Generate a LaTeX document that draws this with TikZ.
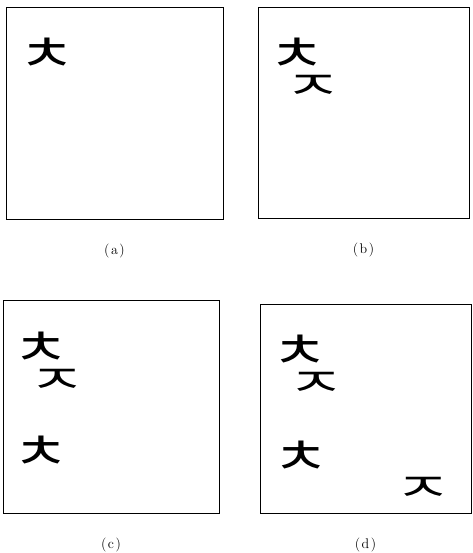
\documentclass[tikz,border=0pt]{standalone}
\usepackage{fontspec}
\newfontfamily\korfont{Noto Sans CJK KR}
\usetikzlibrary{positioning}

\begin{document}
\begin{tikzpicture}[x=1pt, y=-1pt,
  frame/.style={draw, line width=0.9pt, inner sep=0pt},
  jamo/.style={font=\korfont\fontsize{50}{50}\selectfont, inner sep=0pt, xscale=1.25},
  jamoflat/.style={jamo, yscale=0.78},
  sublab/.style={font=\fontsize{14}{16}\selectfont, inner sep=0pt}]
\useasboundingbox (0,0) rectangle (472,553);
% the four panels
\foreach \n/\x/\y/\w/\h/\t in {a/114.5/113/217/212/a, b/363.5/112.5/211/211/b, c/111/406.5/216/213/c, d/365.5/408.5/211/209/d} {
  \node[frame, minimum width=\w pt, minimum height=\h pt] (f\n) at (\x,\y) {};
  \node[sublab, below=24pt of f\n] (l\n) {(\kern1.5pt\t\kern1.5pt)};
}
% strokes in each panel
\node[jamo] (a1) at (47,55) {ㅊ};
\node[jamo] (b1) at (297,55) {ㅊ};
\node[jamoflat] (b2) at (313.5,87) {ㅈ};
\node[jamo] (c1) at (41,349) {ㅊ};
\node[jamoflat] (c2) at (57.5,381.5) {ㅈ};
\node[jamo] (c3) at (41,453) {ㅊ};
\node[jamo] (d1) at (300,352) {ㅊ};
\node[jamoflat] (d2) at (316,384) {ㅈ};
\node[jamo] (d3) at (301,458) {ㅊ};
\node[jamoflat] (d4) at (423,489) {ㅈ};
\end{tikzpicture}
\end{document}
